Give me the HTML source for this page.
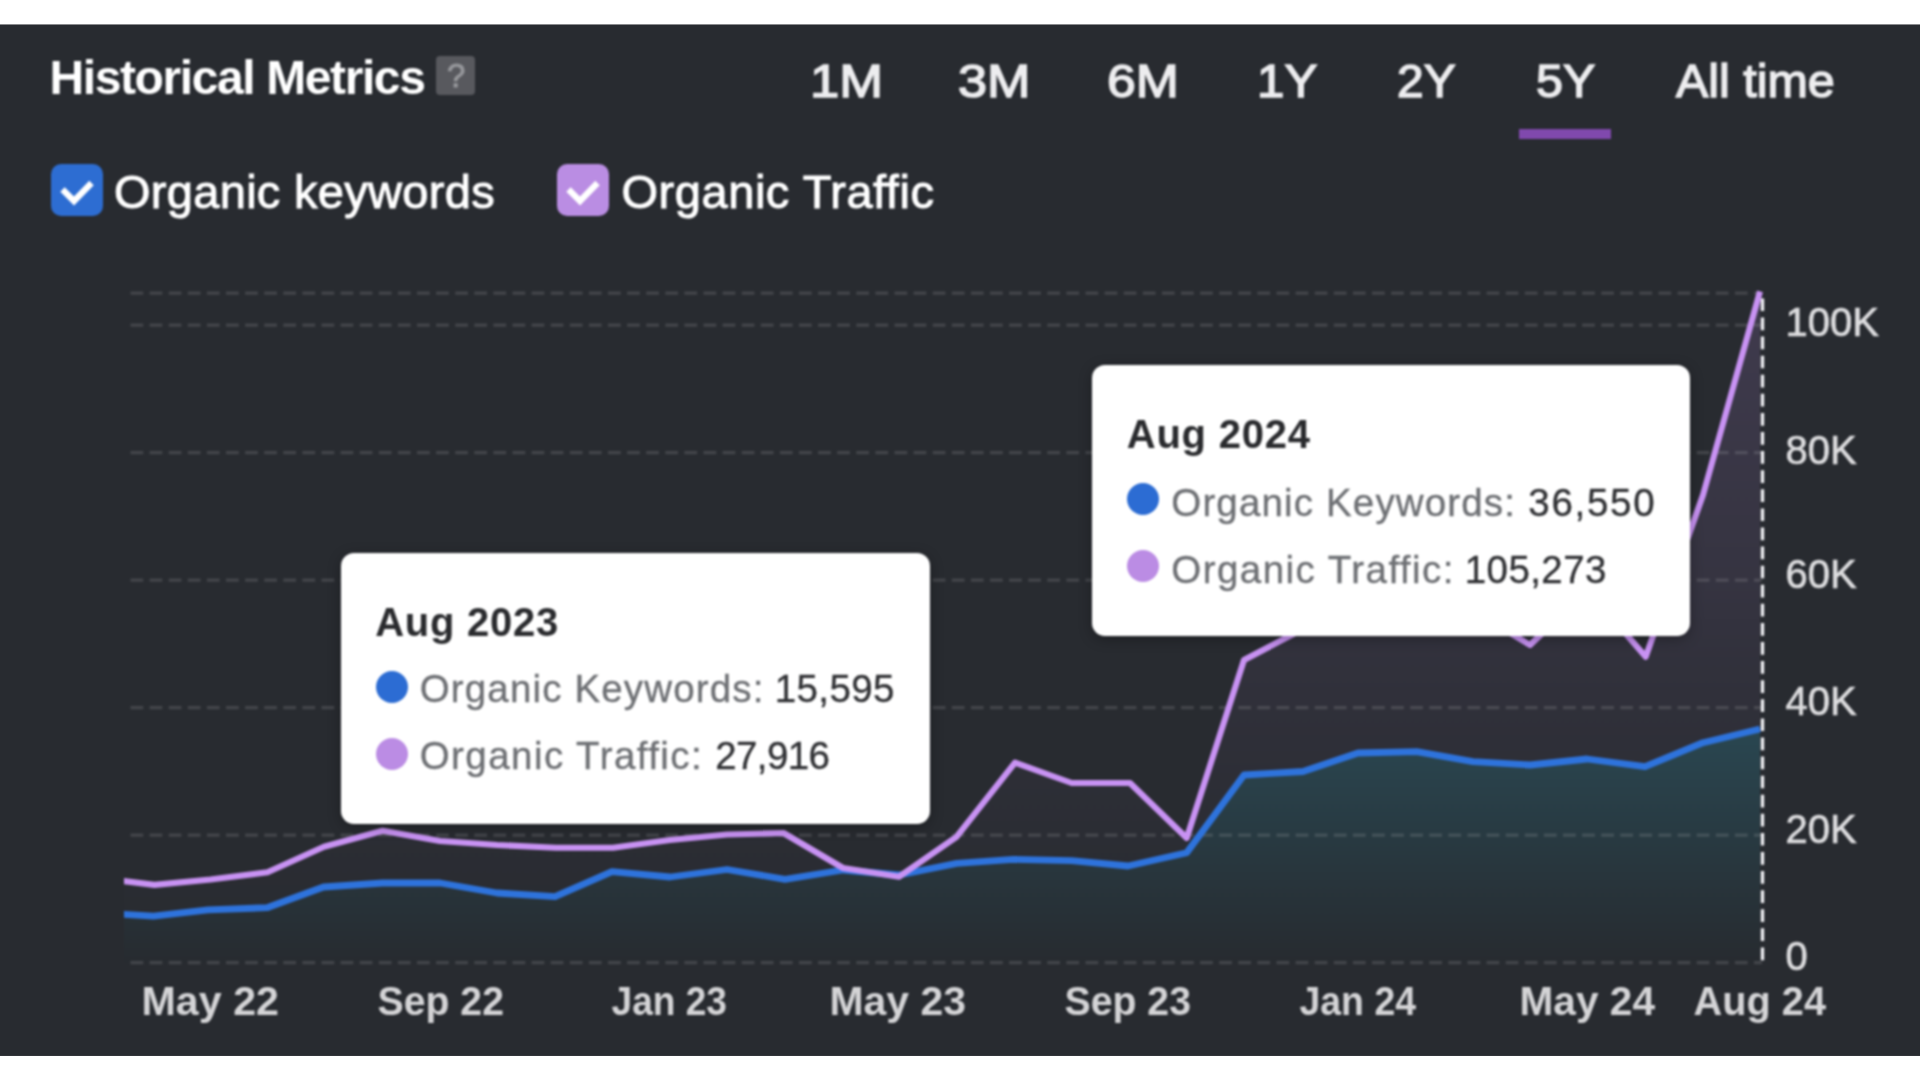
<!DOCTYPE html>
<html lang="en"><head><meta charset="utf-8"><title>Historical Metrics</title>
<style>
html,body{margin:0;padding:0;background:#fff;}
body{width:1920px;height:1080px;position:relative;overflow:hidden;font-family:"Liberation Sans",Arial,sans-serif;}
.abs{position:absolute;white-space:nowrap;line-height:1;}
.title{left:49.5px;top:54px;font-size:48px;font-weight:bold;color:#fff;letter-spacing:-1.4px;}
.help{left:436px;top:56px;width:38.5px;height:38.5px;border-radius:4px;background:#58595e;color:#97989c;-webkit-text-stroke:0.9px #97989c;font-size:33px;text-align:center;line-height:40.5px;text-indent:2px;}
.rng{font-size:47px;color:#ededef;-webkit-text-stroke:1.5px #ededef;top:57px;transform-origin:0 0;}
.under{left:1519px;top:129px;width:92px;height:10px;background:#8049ad;}
.cb{width:51.5px;height:51.5px;border-radius:10px;top:164px;}
.lbl{font-size:47px;color:#fff;top:168.2px;-webkit-text-stroke:1px #fff;letter-spacing:0.3px;}
svg{position:absolute;left:0;top:0;}
.tip{position:absolute;background:#fff;border-radius:13px;box-shadow:0 3px 14px rgba(0,0,0,.30);}
.tip div{position:absolute;line-height:1;white-space:nowrap;}
.tip .h{left:34.5px;font-size:40px;font-weight:bold;color:#2a2b2e;letter-spacing:0.75px;}
.tip .r{left:79px;font-size:38.5px;color:#6e7074;-webkit-text-stroke:0.35px #6e7074;}
.tip .n{font-size:38.5px;color:#303134;-webkit-text-stroke:0.35px #303134;}
.tip .d{left:35px;width:32px;height:32px;border-radius:50%;}
.soft{position:absolute;left:-40px;top:-40px;width:2000px;height:1160px;background:#fff;filter:blur(0.8px);}
.stage{position:absolute;left:40px;top:40px;width:1920px;height:1080px;}
</style></head><body>
<div class="soft"><div class="stage">
<svg width="1920" height="1080" viewBox="0 0 1920 1080" style="overflow:visible">
<rect x="-40" y="14" width="2000" height="1052" fill="#282b30"/>
</svg>
<div class="abs title">Historical Metrics</div>
<div class="abs help">?</div>
<div class="abs rng" style="left:810px;transform:scaleX(1.12)">1M</div>
<div class="abs rng" style="left:958px;transform:scaleX(1.11)">3M</div>
<div class="abs rng" style="left:1107px;transform:scaleX(1.10)">6M</div>
<div class="abs rng" style="left:1257px;transform:scaleX(1.05)">1Y</div>
<div class="abs rng" style="left:1397px;transform:scaleX(1.02)">2Y</div>
<div class="abs rng" style="left:1536px;transform:scaleX(1.03)">5Y</div>
<div class="abs rng" style="left:1676px;transform:scaleX(1.03)">All time</div>
<div class="abs under"></div>

<div class="abs cb" style="left:51px;background:#2d6dd2"></div>
<div class="abs lbl" style="left:114px">Organic keywords</div>
<div class="abs cb" style="left:557px;background:#ba8de3"></div>
<div class="abs lbl" style="left:621.5px;letter-spacing:0.55px">Organic Traffic</div>

<svg width="1920" height="1080" viewBox="0 0 1920 1080">
<defs>
<linearGradient id="gp" x1="0" y1="291" x2="0" y2="962" gradientUnits="userSpaceOnUse">
<stop offset="0" stop-color="#b98be6" stop-opacity="0.165"/>
<stop offset="0.24" stop-color="#b98be6" stop-opacity="0.122"/>
<stop offset="0.43" stop-color="#b98be6" stop-opacity="0.095"/>
<stop offset="0.55" stop-color="#b98be6" stop-opacity="0.066"/>
<stop offset="0.64" stop-color="#b98be6" stop-opacity="0.05"/>
<stop offset="0.76" stop-color="#b98be6" stop-opacity="0.03"/>
<stop offset="0.9" stop-color="#b98be6" stop-opacity="0.01"/>
<stop offset="1" stop-color="#b98be6" stop-opacity="0"/>
</linearGradient>
<linearGradient id="gb" x1="0" y1="700" x2="0" y2="962" gradientUnits="userSpaceOnUse">
<stop offset="0" stop-color="#2a4a55" stop-opacity="1"/>
<stop offset="1" stop-color="#272b30" stop-opacity="1"/>
</linearGradient>
<clipPath id="cp"><rect x="124" y="280" width="1640" height="690"/></clipPath>
</defs>
<!-- check marks -->
<path d="M62.5 189.5 L74 201 L91.5 183" fill="none" stroke="#fff" stroke-width="6.2" stroke-linecap="butt" stroke-linejoin="miter"/>
<path d="M568.5 189.5 L580 201 L597.5 183" fill="none" stroke="#fff" stroke-width="6.2" stroke-linecap="butt" stroke-linejoin="miter"/>
<g clip-path="url(#cp)">
<polygon points="95.7,877.5 154.5,884.9 210.5,879.5 267.5,872.3 324.0,846.7 382.7,830.7 440.0,841.0 497.0,845.0 556.0,847.7 613.0,847.7 670.0,840.0 727.0,834.5 783.5,833.0 843.0,868.0 899.0,876.7 956.7,836.7 1015.0,762.7 1071.7,783.0 1130.0,783.0 1186.7,838.0 1244.0,660.0 1301.0,630.0 1358.5,625.0 1416.0,618.0 1473.0,611.0 1530.0,645.0 1588.0,590.0 1645.7,656.7 1703.0,495.0 1760.0,291.4 1760.0,962.5 95.7,962.5" fill="url(#gp)"/>
<polygon points="95.7,912.6 153.5,916.1 208.0,909.8 267.0,907.7 323.5,887.0 382.7,883.0 440.0,883.0 497.0,893.0 555.0,896.7 612.0,871.7 670.0,877.0 727.0,869.5 785.0,879.3 843.0,870.0 899.0,875.0 956.7,863.3 1013.0,859.3 1071.7,860.7 1128.0,866.0 1186.7,852.7 1244.0,775.0 1303.0,771.5 1358.0,753.0 1416.7,751.7 1473.0,761.7 1530.0,765.0 1587.0,759.0 1645.0,766.7 1703.0,742.7 1760.0,729.0 1760.0,962.5 95.7,962.5" fill="url(#gb)"/>
</g>
<g stroke="#ffffff" stroke-opacity="0.125" stroke-width="3.3" stroke-dasharray="12.75 6.35" fill="none">
<line x1="130.5" x2="1762" y1="293.2" y2="293.2"/>
<line x1="130.5" x2="1762" y1="325.2" y2="325.2"/>
<line x1="130.5" x2="1762" y1="452.7" y2="452.7"/>
<line x1="130.5" x2="1762" y1="580.2" y2="580.2"/>
<line x1="130.5" x2="1762" y1="707.7" y2="707.7"/>
<line x1="130.5" x2="1762" y1="835.2" y2="835.2"/>
<line x1="130.5" x2="1762" y1="962.7" y2="962.7"/>
</g>
<g clip-path="url(#cp)" fill="none" stroke-linejoin="round" stroke-linecap="butt">
<polyline points="95.7,912.6 153.5,916.1 208.0,909.8 267.0,907.7 323.5,887.0 382.7,883.0 440.0,883.0 497.0,893.0 555.0,896.7 612.0,871.7 670.0,877.0 727.0,869.5 785.0,879.3 843.0,870.0 899.0,875.0 956.7,863.3 1013.0,859.3 1071.7,860.7 1128.0,866.0 1186.7,852.7 1244.0,775.0 1303.0,771.5 1358.0,753.0 1416.7,751.7 1473.0,761.7 1530.0,765.0 1587.0,759.0 1645.0,766.7 1703.0,742.7 1760.0,729.0" stroke="#2e73dc" stroke-width="6.8"/>
<polyline points="95.7,877.5 154.5,884.9 210.5,879.5 267.5,872.3 324.0,846.7 382.7,830.7 440.0,841.0 497.0,845.0 556.0,847.7 613.0,847.7 670.0,840.0 727.0,834.5 783.5,833.0 843.0,868.0 899.0,876.7 956.7,836.7 1015.0,762.7 1071.7,783.0 1130.0,783.0 1186.7,838.0 1244.0,660.0 1301.0,630.0 1358.5,625.0 1416.0,618.0 1473.0,611.0 1530.0,645.0 1588.0,590.0 1645.7,656.7 1703.0,495.0 1760.0,291.4" stroke="#c892f3" stroke-width="6.1"/>
</g>
<line x1="1762.5" x2="1762.5" y1="298.4" y2="961.2" stroke="#f2f2f6" stroke-width="3.3" stroke-dasharray="12.7 6.39"/>
<g font-family="Liberation Sans, Arial, sans-serif" font-size="40" fill="#dcdcde" stroke="#dcdcde" stroke-width="0.7">
<text x="1785.5" y="335.9">100K</text>
<text x="1785.5" y="463.6">80K</text>
<text x="1785.5" y="587.75">60K</text>
<text x="1785.5" y="715">40K</text>
<text x="1785.5" y="842.5">20K</text>
<text x="1785.5" y="970">0</text>
</g>
<g font-family="Liberation Sans, Arial, sans-serif" font-size="40" font-weight="bold" fill="#d4d4d6">
<text x="141.5" y="1015.2" textLength="137.5" lengthAdjust="spacingAndGlyphs">May 22</text>
<text x="377.5" y="1015.2" textLength="126.5" lengthAdjust="spacingAndGlyphs">Sep 22</text>
<text x="611.5" y="1015.2" textLength="115.5" lengthAdjust="spacingAndGlyphs">Jan 23</text>
<text x="829.5" y="1015.2" textLength="136.5" lengthAdjust="spacingAndGlyphs">May 23</text>
<text x="1064.5" y="1015.2" textLength="126.5" lengthAdjust="spacingAndGlyphs">Sep 23</text>
<text x="1299.5" y="1015.2" textLength="116.5" lengthAdjust="spacingAndGlyphs">Jan 24</text>
<text x="1519.5" y="1015.2" textLength="135.5" lengthAdjust="spacingAndGlyphs">May 24</text>
<text x="1693.5" y="1015.2" textLength="132.5" lengthAdjust="spacingAndGlyphs">Aug 24</text>
</g>
</svg>

<div class="tip" style="left:340.7px;top:553px;width:589.3px;height:271px;">
<div class="h" style="top:48.9px">Aug 2023</div>
<div class="d" style="top:118.2px;background:#2c6cd3"></div>
<div class="r" style="top:117.2px;letter-spacing:1.15px">Organic Keywords:</div>
<div class="n" style="left:434px;top:117.2px;letter-spacing:0.4px">15,595</div>
<div class="d" style="top:185.0px;background:#bb8ce4"></div>
<div class="r" style="top:184.0px;letter-spacing:1.45px">Organic Traffic:</div>
<div class="n" style="left:374.5px;top:184.0px;letter-spacing:-0.6px">27,916</div>
</div>
<div class="tip" style="left:1092.3px;top:364.7px;width:598px;height:271px;">
<div class="h" style="top:48.9px">Aug 2024</div>
<div class="d" style="top:118.2px;background:#2c6cd3"></div>
<div class="r" style="top:119.0px;letter-spacing:1.15px">Organic Keywords:</div>
<div class="n" style="left:436px;top:119.0px;letter-spacing:1.7px">36,550</div>
<div class="d" style="top:185.0px;background:#bb8ce4"></div>
<div class="r" style="top:186.2px;letter-spacing:1.45px">Organic Traffic:</div>
<div class="n" style="left:372.5px;top:186.2px;letter-spacing:0.4px">105,273</div>
</div>
</div></div>
<svg width="1920" height="1080" viewBox="0 0 1920 1080">
<rect x="0" y="0" width="1920" height="24.45" fill="#fff"/>
<rect x="0" y="1055.95" width="1920" height="24.05" fill="#fff"/>
</svg>
</body></html>
